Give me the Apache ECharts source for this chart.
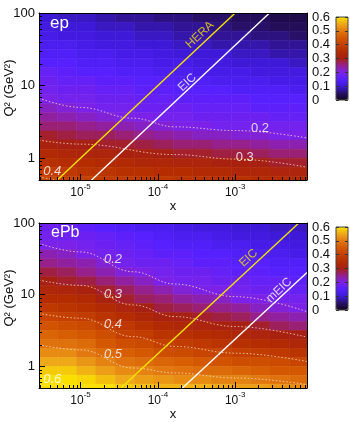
<!DOCTYPE html>
<html><head><meta charset="utf-8">
<script src="https://cdn.jsdelivr.net/npm/echarts@6/dist/echarts.min.js"></script>
<style>html,body{margin:0;padding:0;background:#fff}#c{width:350px;height:422px}</style>
</head><body><div id="c"></div>
<script>
// ---- axes ----
const xMin = 2.9e-6, xMax = 8.5e-3;
const yMin = 0.5, yMax = 100;
const xTickLabels = {'-5': '10|-5', '-4': '10|-4', '-3': '10|-3'};
const yTickLabels = {'0': '1', '1': '10', '2': '100'};
const cbarTicks = ['0', '0.1', '0.2', '0.3', '0.4', '0.5', '0.6'];

// ---- heatmap cells (centres) ----
const xCenters = [3.76e-6, 6.68e-6, 1.19e-5, 2.11e-5, 3.76e-5, 6.68e-5, 1.19e-4, 2.11e-4, 3.76e-4, 6.68e-4, 1.19e-3, 2.11e-3, 3.76e-3, 6.68e-3];
const q2Centers = [86.6, 64.9, 48.7, 36.5, 27.4, 20.5, 15.4, 11.5, 8.66, 6.49, 4.87, 3.65, 2.74, 2.05, 1.54, 1.15, 0.87, 0.65, 0.49];

const epValues = [
 [.10,.09,.09,.08,.07,.07,.06,.06,.05,.05,.04,.04,.03,.03],
 [.11,.10,.10,.09,.09,.08,.08,.07,.07,.06,.05,.05,.04,.04],
 [.12,.11,.11,.10,.10,.09,.09,.08,.08,.07,.07,.06,.06,.05],
 [.13,.13,.12,.11,.11,.10,.10,.09,.09,.08,.08,.08,.07,.07],
 [.14,.14,.13,.13,.12,.12,.11,.10,.10,.10,.09,.09,.08,.08],
 [.15,.15,.14,.14,.13,.13,.12,.12,.11,.11,.10,.10,.10,.09],
 [.17,.16,.15,.15,.14,.14,.13,.13,.12,.12,.12,.11,.11,.11],
 [.18,.17,.17,.16,.16,.15,.15,.14,.14,.13,.13,.13,.12,.12],
 [.19,.18,.18,.17,.17,.16,.16,.15,.15,.15,.14,.14,.14,.13],
 [.20,.19,.19,.18,.18,.17,.17,.16,.16,.16,.16,.15,.15,.15],
 [.22,.21,.20,.19,.19,.18,.18,.18,.17,.17,.17,.16,.16,.16],
 [.24,.23,.22,.21,.20,.20,.19,.19,.18,.18,.18,.18,.17,.17],
 [.26,.26,.25,.24,.23,.22,.21,.20,.20,.19,.19,.19,.19,.19],
 [.29,.28,.27,.27,.26,.25,.24,.23,.22,.22,.21,.21,.20,.20],
 [.31,.30,.30,.29,.29,.28,.27,.26,.26,.25,.25,.24,.23,.23],
 [.34,.33,.32,.32,.31,.31,.30,.29,.29,.28,.28,.27,.26,.26],
 [.36,.35,.35,.34,.34,.33,.33,.32,.32,.31,.31,.30,.29,.29],
 [.39,.38,.37,.37,.36,.36,.35,.35,.34,.34,.33,.33,.32,.32],
 [.41,.40,.40,.39,.39,.38,.38,.37,.37,.36,.36,.35,.35,.34]
];
const ePbValues = [
 [.18,.17,.16,.15,.14,.13,.13,.12,.11,.11,.10,.10,.09,.09],
 [.19,.18,.18,.17,.16,.15,.14,.13,.13,.12,.11,.11,.10,.10],
 [.20,.20,.19,.18,.17,.16,.15,.14,.14,.13,.13,.12,.12,.11],
 [.23,.22,.20,.19,.18,.17,.16,.16,.15,.15,.14,.13,.13,.12],
 [.25,.24,.23,.21,.19,.18,.18,.17,.16,.16,.15,.15,.14,.14],
 [.28,.27,.25,.23,.21,.20,.19,.18,.18,.17,.16,.16,.15,.15],
 [.30,.29,.28,.26,.24,.22,.20,.19,.19,.18,.18,.17,.17,.16],
 [.33,.32,.31,.29,.27,.25,.23,.21,.20,.20,.19,.18,.18,.17],
 [.35,.35,.34,.31,.29,.27,.26,.24,.23,.22,.20,.20,.19,.19],
 [.38,.37,.36,.34,.32,.30,.28,.27,.26,.25,.24,.22,.21,.20],
 [.41,.40,.39,.37,.35,.33,.31,.30,.29,.28,.27,.25,.24,.23],
 [.44,.43,.42,.40,.38,.36,.34,.33,.32,.31,.30,.29,.27,.26],
 [.47,.46,.45,.43,.40,.39,.37,.36,.35,.34,.33,.32,.31,.30],
 [.49,.49,.48,.45,.43,.42,.40,.39,.38,.37,.36,.35,.34,.33],
 [.52,.52,.50,.48,.46,.45,.43,.42,.41,.41,.40,.39,.38,.37],
 [.55,.55,.53,.51,.49,.48,.47,.46,.45,.44,.43,.43,.42,.41],
 [.58,.58,.56,.54,.52,.51,.50,.49,.48,.48,.47,.46,.45,.45],
 [.61,.61,.59,.57,.55,.54,.53,.52,.52,.51,.51,.50,.49,.48],
 [.64,.64,.62,.60,.58,.57,.56,.56,.56,.55,.54,.54,.53,.52]
];

// ---- contour lines [x, Q2] ----
const epContour02 = [[2.9e-6, 6.7], [1e-5, 5.0], [4.8e-5, 3.55], [1.66e-4, 2.7], [1e-3, 2.4], [8.5e-3, 1.9]];
const epContour03 = [[2.9e-6, 1.77], [1e-5, 1.56], [1.66e-4, 1.12], [1e-3, 0.97], [8.5e-3, 0.75]];
const epContour04 = [[2.9e-6, 0.55], [6.3e-6, 0.47]];
const ePbContour02 = [[2.9e-6, 51.8], [1e-5, 39.5], [4.8e-5, 20.9], [1.66e-4, 14.1], [1e-3, 9.4], [8.5e-3, 5.8]];
const ePbContour03 = [[2.9e-6, 16], [1e-5, 13.5], [4.8e-5, 7.2], [1.66e-4, 4.95], [1e-3, 3.6], [8.5e-3, 2.56]];
const ePbContour04 = [[2.9e-6, 5.5], [1e-5, 4.7], [4.8e-5, 2.6], [1.66e-4, 1.9], [1e-3, 1.53], [8.5e-3, 1.17]];
const ePbContour05 = [[2.9e-6, 2.0], [1e-5, 1.7], [4.8e-5, 0.95], [1.66e-4, 0.81], [1e-3, 0.69], [8.5e-3, 0.56]];
const ePbContour06 = [[2.9e-6, 0.74], [5e-6, 0.6], [7.5e-6, 0.5]];

// ---- kinematic limits [x, Q2] ----
const heraLine = [[5e-6, 0.5], [1e-3, 100]];
const eicLineEp = [[1.39e-5, 0.5], [2.78e-3, 100]];
const eicLineEPb = [[3.33e-5, 0.5], [6.67e-3, 100]];
const meicLine = [[2.08e-4, 0.5], [8.5e-3, 20.4]];

// ---- in-plot labels [x, Q2, text] ----
const epContourLabels = [[2.1e-3, 2.6, '0.2'], [1.33e-3, 1.03, '0.3']];
const epContourLabelsIt = [[4.3e-6, 0.66, '0.4']];
const ePbContourLabels = [[2.63e-5, 31.3, '0.2'], [2.63e-5, 10.2, '0.3'], [2.63e-5, 3.8, '0.4'], [2.63e-5, 1.46, '0.5'], [4.3e-6, 0.65, '0.6']];
const epLineLabels = [[3.5e-4, 50, 'HERA', '#f2e400'], [2.4e-4, 11, 'EIC', '#ffffff']];
const ePbLineLabels = [[1.49e-3, 32.4, 'EIC', '#f2e400'], [3.7e-3, 11.6, 'mEIC', '#ffffff']];

const colorStops = ['#120520', '#281068', '#3e1ad8', '#5620ff', '#7c22e8', '#96208c', '#a62014', '#b42c00', '#c44000', '#d45800', '#e27810', '#eea818', '#fae000'];

const FONT = '"Liberation Sans", Arial, sans-serif';

function cellEdges(arr, i) {
  const n = arr.length;
  const prev = i > 0 ? Math.sqrt(arr[i] * arr[i - 1]) : arr[i] * arr[i] / Math.sqrt(arr[i] * arr[i + 1]);
  const next = i < n - 1 ? Math.sqrt(arr[i] * arr[i + 1]) : arr[i] * arr[i] / Math.sqrt(arr[i] * arr[i - 1]);
  return [Math.min(prev, next), Math.max(prev, next)];
}
function heatData(vals) {
  const out = [];
  for (let r = 0; r < q2Centers.length; r++) {
    const qe = cellEdges(q2Centers, r);
    for (let c = 0; c < xCenters.length; c++) {
      const xe = cellEdges(xCenters, c);
      out.push([xCenters[c], q2Centers[r], vals[r][c], xe[0], xe[1], qe[0], qe[1]]);
    }
  }
  return out;
}
function renderCell(params, api) {
  const p0 = api.coord([api.value(3), api.value(6)]);
  const p1 = api.coord([api.value(4), api.value(5)]);
  const color = api.visual('color');
  return {type: 'rect', shape: {x: p0[0], y: p0[1], width: p1[0] - p0[0], height: p1[1] - p0[1]},
    style: {fill: color, stroke: color, lineWidth: 0.6}};
}
// minor ticks of the log axes
const minorTicks = [];
for (let e = -6; e <= -3; e++) for (let k = 2; k <= 9; k++) { const v = k * Math.pow(10, e); if (v > xMin && v < xMax) minorTicks.push([v, 1, 0]); }
for (let e = -1; e <= 1; e++) for (let k = 2; k <= 9; k++) { const v = k * Math.pow(10, e); if (v > yMin && v < yMax) minorTicks.push([1e-4, v, 1]); }
function renderTick(params, api) {
  const cs = params.coordSys;
  const p = api.coord([api.value(0), api.value(1)]);
  const kind = api.value(2);
  const s = {stroke: '#000', lineWidth: 1};
  if (kind === 0) {
    const x = Math.round(p[0]) + 0.5;
    return {type: 'line', shape: {x1: x, y1: cs.y + cs.height, x2: x, y2: cs.y + cs.height - 3}, style: s};
  }
  const y = Math.round(p[1]) + 0.5;
  return {type: 'line', shape: {x1: cs.x, y1: y, x2: cs.x + 3, y2: y}, style: s};
}
function xLabel(v) {
  const e = Math.log10(v), r = Math.round(e);
  if (Math.abs(e - r) > 0.01 || !xTickLabels[String(r)]) return '';
  const parts = xTickLabels[String(r)].split('|');
  return '{b|' + parts[0] + '}{s|' + parts[1] + '}';
}
function yLabel(v) {
  const e = Math.log10(v), r = Math.round(e);
  if (Math.abs(e - r) > 0.01) return '';
  return yTickLabels[String(r)] || '';
}
function mainX(gi) {
  return {type: 'log', gridIndex: gi, min: xMin, max: xMax, z: 10,
    axisLine: {show: true, lineStyle: {color: '#000', width: 1}},
    axisTick: {show: true, inside: true, length: 6, lineStyle: {color: '#000'}},
    axisLabel: {formatter: xLabel, margin: 3, rich: {
      b: {fontSize: 12, fontFamily: FONT, color: '#111', lineHeight: 16, verticalAlign: 'bottom'},
      s: {fontSize: 8, fontFamily: FONT, color: '#111', lineHeight: 16, verticalAlign: 'top'}}},
    splitLine: {show: false}, name: 'x', nameLocation: 'middle', nameGap: 19,
    nameTextStyle: {fontSize: 13, fontFamily: FONT, color: '#111'}};
}
function frameX(gi) {
  return {type: 'log', gridIndex: gi, position: 'top', min: xMin, max: xMax, z: 10,
    axisLine: {show: true, lineStyle: {color: '#000', width: 1}}, axisTick: {show: false}, axisLabel: {show: false}, splitLine: {show: false}};
}
function mainY(gi) {
  return {type: 'log', gridIndex: gi, min: yMin, max: yMax, z: 10,
    axisLine: {show: true, lineStyle: {color: '#000', width: 1}},
    axisTick: {show: true, inside: true, length: 6, lineStyle: {color: '#000'}},
    axisLabel: {formatter: yLabel, margin: 4, fontSize: 13, fontFamily: FONT, color: '#111'},
    splitLine: {show: false}};
}
function frameY(gi) {
  return {type: 'log', gridIndex: gi, position: 'right', min: yMin, max: yMax, z: 10,
    axisLine: {show: true, lineStyle: {color: '#000', width: 1}}, axisTick: {show: false}, axisLabel: {show: false}, splitLine: {show: false}};
}
function cbarY(gi, pos) {
  return {type: 'value', gridIndex: gi, position: pos, min: 0, max: 0.6, interval: 0.1, z: 11,
    axisLine: {show: false}, axisTick: {show: true, inside: true, length: 3, lineStyle: {color: '#333'}},
    axisLabel: pos === 'left' ? {show: true, align: 'left', margin: 24, fontSize: 13, fontFamily: FONT, color: '#111',
      formatter: function (v) { return cbarTicks[Math.round(v * 10)]; }} : {show: false},
    splitLine: {show: false}};
}
function contour(data, xi) {
  return {type: 'line', xAxisIndex: xi, yAxisIndex: xi, data: data, symbol: 'none', smooth: 0.4, smoothMonotone: 'x', z: 5,
    lineStyle: {color: 'rgba(255,225,205,0.75)', width: 1, type: [1.5, 2]}};
}
function kin(data, xi, color) {
  return {type: 'line', xAxisIndex: xi, yAxisIndex: xi, data: data, symbol: 'none', z: 6,
    lineStyle: {color: color, width: 1.4}};
}
function textSeries(arr, xi, italic) {
  return {type: 'scatter', xAxisIndex: xi, yAxisIndex: xi, symbolSize: 1, z: 8,
    itemStyle: {color: 'transparent'},
    data: arr.map(d => ({value: [d[0], d[1]], name: d[2]})),
    label: {show: true, position: 'inside', formatter: '{b}', color: '#fff', fontSize: 13, fontFamily: FONT, fontStyle: italic ? 'italic' : 'normal'}};
}
function lineText(arr, xi) {
  return {type: 'scatter', xAxisIndex: xi, yAxisIndex: xi, symbolSize: 1, z: 8,
    itemStyle: {color: 'transparent'},
    data: arr.map(d => ({value: [d[0], d[1]], name: d[2], label: {color: d[3]}})),
    label: {show: true, position: 'inside', formatter: '{b}', fontSize: 12, fontFamily: FONT, rotate: 43}};
}
function vmap(si, top) {
  return {type: 'continuous', seriesIndex: si, dimension: 2, min: 0, max: 0.6, calculable: false,
    inRange: {color: colorStops}, outOfRange: {color: [colorStops[colorStops.length - 1]]},
    left: 336, top: top, itemWidth: 12, itemHeight: 83, padding: 0, text: null, z: 4};
}

const chart = echarts.init(document.getElementById('c'), null, {renderer: 'canvas'});
chart.setOption({
  animation: false,
  backgroundColor: '#fff',
  grid: [
    {left: 39, top: 13, width: 268, height: 167},
    {left: 39, top: 223, width: 268, height: 165},
    {left: 336, top: 17, width: 12, height: 83, show: true, borderColor: '#444', borderWidth: 1, backgroundColor: 'transparent', z: 10},
    {left: 336, top: 227, width: 12, height: 83, show: true, borderColor: '#444', borderWidth: 1, backgroundColor: 'transparent', z: 10}
  ],
  xAxis: [mainX(0), mainX(1), frameX(0), frameX(1),
    {type: 'value', gridIndex: 2, show: false}, {type: 'value', gridIndex: 3, show: false}],
  yAxis: [mainY(0), mainY(1), frameY(0), frameY(1),
    cbarY(2, 'left'), cbarY(2, 'right'), cbarY(3, 'left'), cbarY(3, 'right')],
  visualMap: [vmap(0, 17), vmap(1, 227)],
  series: [
    {type: 'custom', xAxisIndex: 0, yAxisIndex: 0, data: heatData(epValues), renderItem: renderCell, encode: {x: 0, y: 1}, clip: true, z: 1},
    {type: 'custom', xAxisIndex: 1, yAxisIndex: 1, data: heatData(ePbValues), renderItem: renderCell, encode: {x: 0, y: 1}, clip: true, z: 1},
    contour(epContour02, 0), contour(epContour03, 0), contour(epContour04, 0),
    contour(ePbContour02, 1), contour(ePbContour03, 1), contour(ePbContour04, 1), contour(ePbContour05, 1), contour(ePbContour06, 1),
    kin(heraLine, 0, '#f2e400'), kin(eicLineEp, 0, '#ffffff'),
    kin(eicLineEPb, 1, '#f2e400'), kin(meicLine, 1, '#ffffff'),
    textSeries(epContourLabels, 0, false), textSeries(epContourLabelsIt, 0, true), textSeries(ePbContourLabels, 1, true),
    lineText(epLineLabels, 0), lineText(ePbLineLabels, 1),
    {type: 'custom', xAxisIndex: 0, yAxisIndex: 0, data: minorTicks, renderItem: renderTick, encode: {x: 0, y: 1}, clip: false, z: 12, silent: true},
    {type: 'custom', xAxisIndex: 1, yAxisIndex: 1, data: minorTicks, renderItem: renderTick, encode: {x: 0, y: 1}, clip: false, z: 12, silent: true}
  ],
  graphic: [
    {type: 'text', left: 50, top: 15, z: 100, style: {text: 'ep', fill: '#fff', font: '17px ' + FONT}},
    {type: 'text', left: 51, top: 225, z: 100, style: {text: 'ePb', fill: '#fff', font: '16px ' + FONT}},
    {type: 'text', x: 9, y: 88, rotation: Math.PI / 2, z: 100, style: {text: 'Q² (GeV²)', fill: '#111', font: '13px ' + FONT, align: 'center', verticalAlign: 'middle'}},
    {type: 'text', x: 9, y: 298, rotation: Math.PI / 2, z: 100, style: {text: 'Q² (GeV²)', fill: '#111', font: '13px ' + FONT, align: 'center', verticalAlign: 'middle'}}
  ]
});
</script>
</body></html>
